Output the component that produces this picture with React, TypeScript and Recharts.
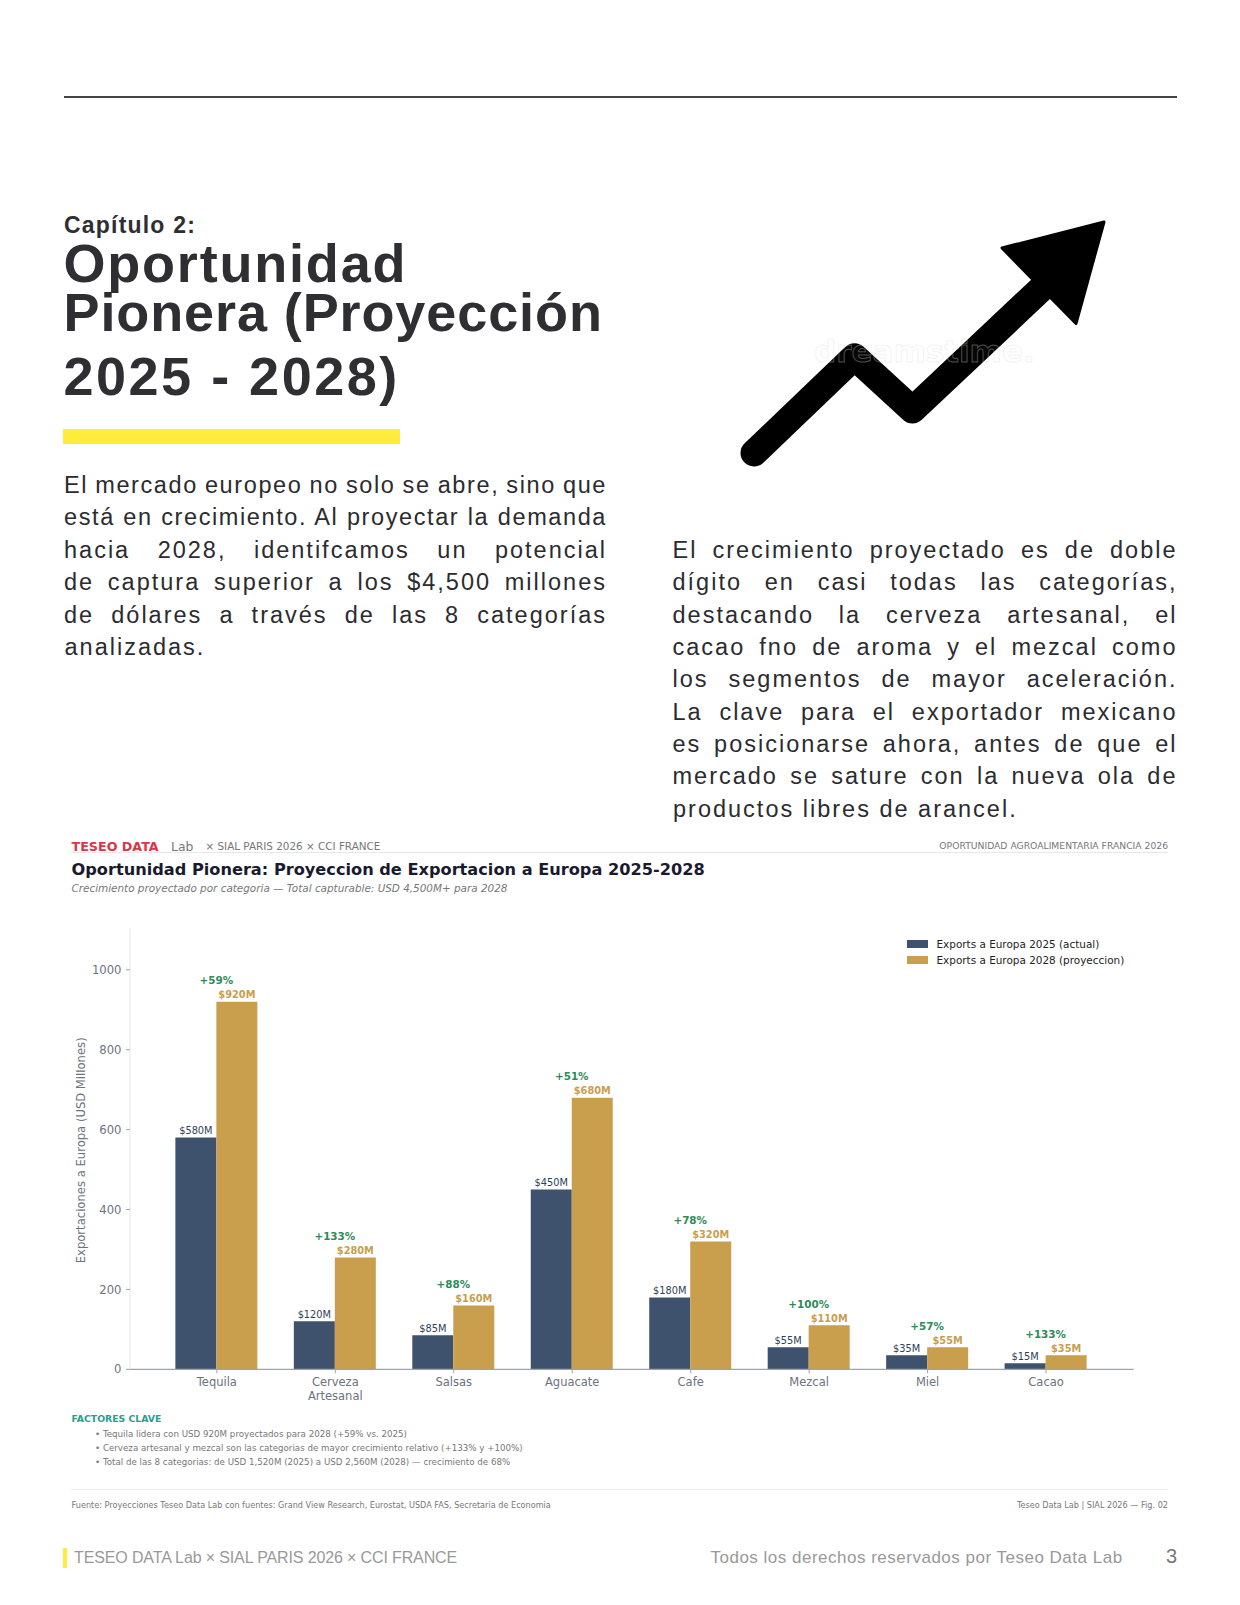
import { BarChart, Bar, XAxis, YAxis, Legend, LabelList } from 'recharts'

const categories = ['Tequila', 'Cerveza Artesanal', 'Salsas', 'Aguacate', 'Cafe', 'Mezcal', 'Miel', 'Cacao']
const exports2025 = [580, 120, 85, 450, 180, 55, 35, 15]
const exports2028 = [920, 280, 160, 680, 320, 110, 55, 35]
const growthLabels = ['+59%', '+133%', '+88%', '+51%', '+78%', '+100%', '+57%', '+133%']
const yTicks = [0, 200, 400, 600, 800, 1000]

const leftParagraph = [
  'El mercado europeo no solo se abre, sino que',
  'está en crecimiento. Al proyectar la demanda',
  'hacia 2028, identifcamos un potencial',
  'de captura superior a los $4,500 millones',
  'de dólares a través de las 8 categorías',
]
const rightParagraph = [
  'El crecimiento proyectado es de doble',
  'dígito en casi todas las categorías,',
  'destacando la cerveza artesanal, el',
  'cacao fno de aroma y el mezcal como',
  'los segmentos de mayor aceleración.',
  'La clave para el exportador mexicano',
  'es posicionarse ahora, antes de que el',
  'mercado se sature con la nueva ola de',
]
const bullets = [
  'Tequila lidera con USD 920M proyectados para 2028 (+59% vs. 2025)',
  'Cerveza artesanal y mezcal son las categorias de mayor crecimiento relativo (+133% y +100%)',
  'Total de las 8 categorias: de USD 1,520M (2025) a USD 2,560M (2028) — crecimiento de 68%',
]

const data = categories.map((name, i) => ({ name, y2025: exports2025[i], y2028: exports2028[i] }))

const NAVY = '#3e526e'
const GOLD = '#c99e4d'
const GREEN = '#2e8b57'
const DEJAVU = '"DejaVu Sans", sans-serif'
const LIBERATION = '"Liberation Sans", Arial, sans-serif'

// one line of text, placed by its vertical centre
function Line({ x, right, cy, size, color = '#333', style, children }: any) {
  const h = Math.round(size * 1.5)
  return (
    <div
      style={{
        position: 'absolute',
        left: x,
        right: right !== undefined ? 1240 - right : undefined,
        top: cy - h / 2,
        height: h,
        lineHeight: `${h}px`,
        fontSize: size,
        color,
        whiteSpace: 'nowrap',
        ...style,
      }}
    >
      {children}
    </div>
  )
}

function BodyLine({ x, width, cy, text, justify = true, tight = false }: any) {
  return (
    <div
      style={{
        position: 'absolute',
        left: x,
        width,
        top: cy - 16,
        height: 32,
        lineHeight: '32px',
        fontFamily: LIBERATION,
        fontSize: 23.5,
        letterSpacing: tight ? 1.6 : 2,
        wordSpacing: tight ? -3.5 : 0,
        color: '#2b2b30',
        textAlign: justify ? 'justify' : 'left',
        textAlignLast: justify ? 'justify' : 'left',
        whiteSpace: justify ? 'normal' : 'nowrap',
      }}
    >
      {text}
    </div>
  )
}

function CategoryTick({ x, y, payload }: any) {
  const words = String(payload.value).split(' ')
  return (
    <text x={x} y={y + 11} textAnchor="middle" fontSize={11.5} fontFamily={DEJAVU} fill="#6b7280">
      {words.map((w, i) => (
        <tspan key={i} x={x} dy={i === 0 ? 0 : 14}>
          {w}
        </tspan>
      ))}
    </text>
  )
}

function Label2025({ x, y, width, value }: any) {
  return (
    <text x={x + width / 2} y={y - 3.5} textAnchor="middle" fontSize={9.8} fontFamily={DEJAVU} fill="#2f3f58">
      ${value}M
    </text>
  )
}

function Label2028({ x, y, width, value, index }: any) {
  return (
    <g>
      <text x={x + width / 2} y={y - 3.5} textAnchor="middle" fontSize={9.8} fontWeight="bold" fontFamily={DEJAVU} fill={GOLD}>
        ${value}M
      </text>
      <text x={x} y={y - 17.5} textAnchor="middle" fontSize={10.4} fontWeight="bold" fontFamily={DEJAVU} fill={GREEN}>
        {growthLabels[index]}
      </text>
    </g>
  )
}

function ChartLegend({ payload }: any) {
  return (
    <div style={{ fontFamily: DEJAVU, fontSize: 10.45, color: '#222' }}>
      {(payload || []).map((item: any) => (
        <div key={item.value} style={{ display: 'flex', alignItems: 'center', height: 16 }}>
          <span style={{ width: 21, height: 8, background: item.color, marginRight: 8.5, display: 'inline-block' }} />
          <span>{item.value}</span>
        </div>
      ))}
    </div>
  )
}

function ExportChart() {
  return (
    <div style={{ position: 'absolute', left: 60, top: 900 }}>
      <BarChart
        width={1100}
        height={520}
        data={data}
        margin={{ top: 28.3, right: 26.3, bottom: 10.7, left: 0 }}
        barCategoryGap="15%"
        barGap={0}
      >
        <XAxis
          dataKey="name"
          interval={0}
          height={40}
          padding={{ left: 27.6, right: 28.4 }}
          tick={<CategoryTick />}
          tickSize={4}
          axisLine={{ stroke: '#9ca3af', strokeWidth: 1.2 }}
          tickLine={{ stroke: '#9ca3af' }}
        />
        <YAxis
          width={70}
          domain={[0, 1104]}
          ticks={yTicks}
          tickSize={4}
          tickMargin={4.5}
          tick={{ fontSize: 11.6, fontFamily: DEJAVU, fill: '#6b7280' }}
          axisLine={{ stroke: '#e5e7eb' }}
          tickLine={{ stroke: '#9ca3af' }}
          label={{
            value: 'Exportaciones a Europa (USD Millones)',
            angle: -90,
            position: 'center',
            dx: -14,
            dy: 1.5,
            fontSize: 11.6,
            fontFamily: DEJAVU,
            fill: '#6b7280',
          }}
        />
        <Legend
          layout="vertical"
          align="center"
          verticalAlign="middle"
          content={<ChartLegend />}
          wrapperStyle={{ left: 847, top: 36, width: 260 }}
        />
        <Bar dataKey="y2025" name="Exports a Europa 2025 (actual)" fill={NAVY} isAnimationActive={false}>
          <LabelList dataKey="y2025" content={<Label2025 />} />
        </Bar>
        <Bar dataKey="y2028" name="Exports a Europa 2028 (proyeccion)" fill={GOLD} isAnimationActive={false}>
          <LabelList dataKey="y2028" content={<Label2028 />} />
        </Bar>
      </BarChart>
    </div>
  )
}

function TrendArrow() {
  return (
    <svg width={1240} height={500} style={{ position: 'absolute', left: 0, top: 0 }}>
      <polyline
        points="754,453 854.5,356.7 912.5,410 1042,288"
        fill="none"
        stroke="#000"
        strokeWidth={27}
        strokeLinecap="round"
        strokeLinejoin="round"
      />
      <polygon points="1104,222 1002,248 1076,323.5" fill="#000" stroke="#000" strokeWidth={3} strokeLinejoin="round" />
      <text x={814} y={362} fontFamily={DEJAVU} fontWeight="bold" fontSize={31} fill="#ffffff" fillOpacity={0.03} stroke="#dddddd" strokeOpacity={0.35}>
        dreamstime.
      </text>
    </svg>
  )
}

export default function App() {
  return (
    <div style={{ position: 'absolute', left: 0, top: 0, width: 1240, height: 1605, background: '#fff', overflow: 'hidden', fontFamily: LIBERATION }}>
      <div style={{ position: 'absolute', left: 64, top: 96, width: 1113, height: 2, background: '#444' }} />

      <Line x={64} cy={225} size={23} color="#2e2e33" style={{ fontWeight: 'bold', letterSpacing: 1.2 }}>
        Capítulo 2:
      </Line>
      <Line x={63.5} cy={263} size={54} color="#2e2e33" style={{ fontWeight: 'bold', letterSpacing: 1.8 }}>
        Oportunidad
      </Line>
      <Line x={63.5} cy={312.5} size={54} color="#2e2e33" style={{ fontWeight: 'bold', letterSpacing: 0.9 }}>
        Pionera (Proyección
      </Line>
      <Line x={63.5} cy={376.5} size={54} color="#2e2e33" style={{ fontWeight: 'bold', letterSpacing: 2.5 }}>
        2025 - 2028)
      </Line>
      <div style={{ position: 'absolute', left: 63, top: 429, width: 337, height: 15, background: '#ffeb3b' }} />

      {leftParagraph.map((t, i) => (
        <BodyLine key={t} x={64} width={543} cy={485 + i * 32.4} text={t} tight={i < 2} />
      ))}
      <BodyLine x={64.5} width={300} cy={647} text="analizadas." justify={false} />

      {rightParagraph.map((t, i) => (
        <BodyLine key={t} x={672.5} width={505} cy={550 + i * 32.35} text={t} />
      ))}
      <BodyLine x={673} width={504} cy={809} text="productos libres de arancel." justify={false} />

      <TrendArrow />

      {/* chart header */}
      <Line x={71.5} cy={846.5} size={12.7} color="#dc3545" style={{ fontFamily: DEJAVU, fontWeight: 'bold' }}>
        TESEO DATA
      </Line>
      <Line x={171} cy={846.5} size={12.4} color="#777" style={{ fontFamily: DEJAVU }}>
        Lab
      </Line>
      <Line x={205.5} cy={846} size={10.4} color="#777" style={{ fontFamily: DEJAVU }}>
        × SIAL PARIS 2026 × CCI FRANCE
      </Line>
      <Line right={1168} cy={846} size={9.23} color="#777" style={{ fontFamily: DEJAVU }}>
        OPORTUNIDAD AGROALIMENTARIA FRANCIA 2026
      </Line>
      <div style={{ position: 'absolute', left: 71, top: 852, width: 1097, height: 1, background: '#e5e7eb' }} />
      <Line x={71.5} cy={870} size={16.18} color="#1a1a2e" style={{ fontFamily: DEJAVU, fontWeight: 'bold' }}>
        Oportunidad Pionera: Proyeccion de Exportacion a Europa 2025-2028
      </Line>
      <Line x={71.5} cy={887.5} size={10.42} color="#777" style={{ fontFamily: DEJAVU, fontStyle: 'italic' }}>
        Crecimiento proyectado por categoria — Total capturable: USD 4,500M+ para 2028
      </Line>

      <ExportChart />

      {/* notes under the chart */}
      <Line x={71.5} cy={1419} size={9.3} color="#2a9d8f" style={{ fontFamily: DEJAVU, fontWeight: 'bold' }}>
        FACTORES CLAVE
      </Line>
      {bullets.map((b, i) => (
        <Line key={b} x={95} cy={1434 + i * 14} size={8.7} color="#777" style={{ fontFamily: DEJAVU }}>
          • {b}
        </Line>
      ))}
      <div style={{ position: 'absolute', left: 71, top: 1489, width: 1097, height: 1, background: '#eeeeee' }} />
      <Line x={71.5} cy={1505} size={8.14} color="#777" style={{ fontFamily: DEJAVU }}>
        Fuente: Proyecciones Teseo Data Lab con fuentes: Grand View Research, Eurostat, USDA FAS, Secretaria de Economia
      </Line>
      <Line right={1168} cy={1505} size={8.14} color="#777" style={{ fontFamily: DEJAVU }}>
        Teseo Data Lab | SIAL 2026 — Fig. 02
      </Line>

      {/* page footer */}
      <div style={{ position: 'absolute', left: 63, top: 1548, width: 4, height: 20, background: '#ffeb3b' }} />
      <Line x={74} cy={1558} size={16} color="#999" style={{ letterSpacing: -0.13 }}>
        TESEO DATA Lab × SIAL PARIS 2026 × CCI FRANCE
      </Line>
      <Line x={710.5} cy={1558} size={17} color="#999" style={{ letterSpacing: 0.5 }}>
        Todos los derechos reservados por Teseo Data Lab
      </Line>
      <Line right={1177} cy={1556} size={20} color="#777">
        3
      </Line>
    </div>
  )
}
